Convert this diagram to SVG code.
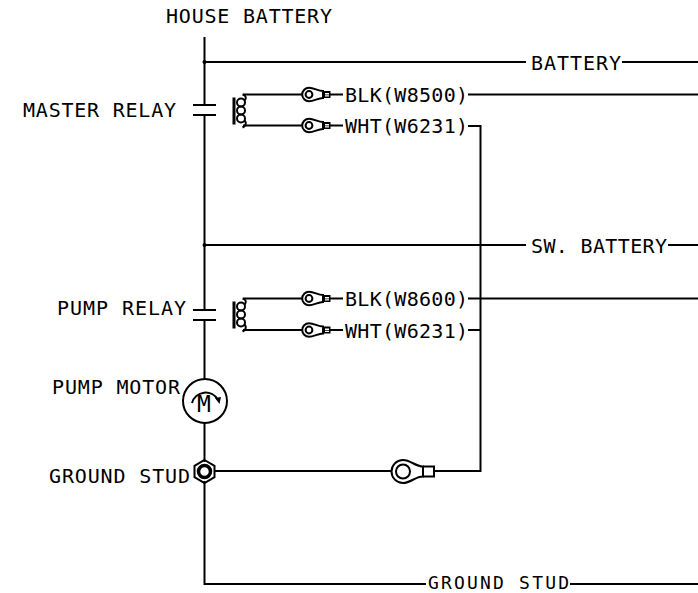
<svg xmlns="http://www.w3.org/2000/svg" width="698" height="593" viewBox="0 0 698 593">
<style>
text{font-family:"DejaVu Sans Mono","Liberation Mono",monospace;font-size:20px;fill:#000}
.w{fill:none;stroke:#000;stroke-width:2}
.t{fill:none;stroke:#000;stroke-width:2}
</style>
<defs>
<g id="lug-s"><circle cx="0" cy="0" r="3.400" class="t"/><path class="t" d="M0 -6.800 A6.800 6.800 0 0 0 0 6.800 C5 6.800 9 3.500 14 3.500 V-3.500 C9 -3.500 5 -6.800 0 -6.800 Z"/><path d="M14 -3.500 H21.500 V3.500 H14 Z M16 -1.500 V0 H20 V-1.500 Z M16 0.800 V2 H20 V0.800 Z" fill="#000" fill-rule="evenodd"/></g>
<g id="relay-coil"><rect x="0" y="0" width="3" height="27" fill="#000"/><ellipse class="t" cx="8.500" cy="5" rx="4" ry="4"/><ellipse class="t" cx="8.500" cy="13" rx="4" ry="4"/><ellipse class="t" cx="8.500" cy="21" rx="4" ry="4"/><path class="t" d="M10 -3 C14 -2 14 1 12 3 M12 23 C14 25 14 28 10 30"/></g>
</defs>
<rect width="698" height="593" fill="#fff"/>
<g id="connectors">
<path class="w" d="M204.500 37V105M204.500 115V310M204.500 320V380M204.500 423V462M204.500 481V584H426"/>
<path class="w" d="M204 62H526M622 62H698"/>
<path class="w" d="M204 245H526M668 245H698"/>
<path class="w" d="M243 94.500H303M243 125.500H303"/>
<path class="w" d="M243 298.500H303M243 330H303"/>
<path class="w" d="M330 94.500H343M330 125.500H343M330 298.500H343M330 330H343"/>
<path class="w" d="M468 94.500H698M468 298.500H698"/>
<path class="w" d="M468 126H480.500V471H435M468 330H480"/>
<path class="w" d="M214 471H392"/>
<path class="w" d="M570 584H698"/>
<circle cx="204.500" cy="62" r="2" fill="#000"/>
<circle cx="204.500" cy="245" r="2" fill="#000"/>
</g>
<g id="house-battery"><text x="166" y="23" textLength="166">HOUSE BATTERY</text></g>
<g id="battery-label"><text x="531" y="69.500" textLength="90">BATTERY</text></g>
<g id="sw-battery-label"><text x="531" y="252.500" textLength="136">SW. BATTERY</text></g>
<g id="ground-stud-label-right"><text x="428" y="588.700" textLength="141" style="font-size:18px">GROUND STUD</text></g>
<g id="master-relay">
<text x="23" y="116.500" textLength="153">MASTER RELAY</text>
<path class="w" d="M193 105H216M193 115H216"/>
<use href="#relay-coil" x="232.500" y="97.500"/>
</g>
<g id="pump-relay">
<text x="57" y="314.500" textLength="129">PUMP RELAY</text>
<path class="w" d="M193 310H216M193 320H216"/>
<use href="#relay-coil" x="232.500" y="301.500"/>
</g>
<g id="lug-blk-8500"><use href="#lug-s" x="309" y="94.500"/><text x="345" y="101.500" textLength="123">BLK(W8500)</text></g>
<g id="lug-wht-6231-a"><use href="#lug-s" x="309" y="125.500"/><text x="345" y="132.500" textLength="123">WHT(W6231)</text></g>
<g id="lug-blk-8600"><use href="#lug-s" x="309" y="298.500"/><text x="345" y="305.500" textLength="123">BLK(W8600)</text></g>
<g id="lug-wht-6231-b"><use href="#lug-s" x="309" y="330"/><text x="345" y="337.500" textLength="123">WHT(W6231)</text></g>
<g id="pump-motor">
<text x="52" y="393.500" textLength="128">PUMP MOTOR</text>
<circle cx="205" cy="401" r="22" class="w"/>
<path class="t" d="M192 403 A14.100 14.100 0 0 1 218 400"/><path d="M215 398L221 397L219.500 404Z" fill="#000"/>
<text x="197" y="412" style="font-size:23px">M</text>
</g>
<g id="ground-stud">
<text x="49" y="482.500" textLength="141">GROUND STUD</text>
<path class="w" d="M204.500 460L214.500 465.800V477.200L204.500 483L194.500 477.200V465.800Z"/>
<circle cx="204.500" cy="471.500" r="6" fill="none" stroke="#000" stroke-width="3.500"/>
</g>
<g id="ground-lug">
<circle cx="403" cy="471.500" r="7" class="w"/>
<path class="w" d="M403 460 A11.500 11.500 0 0 0 403 483 C411 483 415 476.500 423 476.500 V466.500 C415 466.500 411 460 403 460 Z"/>
<path class="w" d="M423 466.500 H434 V476.500 H423"/>
</g>
</svg>
